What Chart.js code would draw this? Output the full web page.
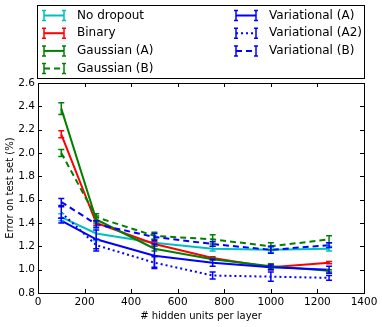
<!DOCTYPE html>
<html>
<head>
<meta charset="utf-8">
<script src="https://cdn.jsdelivr.net/npm/chart.js@4"></script>
<style>
  body { margin: 0; background: #fff; }
  canvas { display: block; }
</style>
</head>
<body>
<canvas id="grafica" width="382" height="327"></canvas>
<script>
// datos
let unidades = [100, 250, 500, 750, 1000, 1250];
let nombres = ['No dropout', 'Binary', 'Gaussian (A)', 'Gaussian (B)', 'Variational (A)', 'Variational (A2)', 'Variational (B)'];

let sinDropout  = [1.45, 1.31, 1.23, 1.18, 1.17, 1.18];
let binario     = [2.16, 1.40, 1.22, 1.10, 1.02, 1.06];
let gaussA      = [2.38, 1.43, 1.18, 1.09, 1.03, 0.99];
let gaussB      = [2.00, 1.45, 1.29, 1.26, 1.20, 1.26];
let variacA     = [1.42, 1.26, 1.12, 1.06, 1.02, 1.00];
let variacA2    = [1.49, 1.21, 1.06, 0.95, 0.94, 0.93];
let variacB     = [1.58, 1.39, 1.28, 1.22, 1.17, 1.21];

let errSinDropout = [0.03, 0.06, 0.03, 0.02, 0.02, 0.02];
let errBinario    = [0.03, 0.02, 0.02, 0.01, 0.02, 0.01];
let errGaussA     = [0.05, 0.03, 0.02, 0.01, 0.02, 0.01];
let errGaussB     = [0.03, 0.03, 0.03, 0.04, 0.03, 0.03];
let errVariacA    = [0.02, 0.08, 0.10, 0.03, 0.02, 0.03];
let errVariacA2   = [0.05, 0.05, 0.05, 0.03, 0.04, 0.02];
let errVariacB    = [0.03, 0.03, 0.03, 0.02, 0.03, 0.02];

let ticksX = [0, 200, 400, 600, 800, 1000, 1200, 1400];
let ticksY = [0.8, 1.0, 1.2, 1.4, 1.6, 1.8, 2.0, 2.2, 2.4, 2.6];

let valores = [sinDropout, binario, gaussA, gaussB, variacA, variacA2, variacB];
let errores = [errSinDropout, errBinario, errGaussA, errGaussB, errVariacA, errVariacA2, errVariacB];
let colores = ['#00bfbf', '#ff0000', '#008000', '#008000', '#0000ff', '#0000ff', '#0000ff'];
let trazos  = [[], [], [], [6, 4], [], [2, 3], [6, 4]];

let fuente = 'DejaVu Sans';

let conjuntos = [];
for (var i = 0; i < nombres.length; i++) {
  let puntos = [];
  for (var j = 0; j < unidades.length; j++) {
    puntos.push({x: unidades[j], y: valores[i][j]});
  }
  conjuntos.push({
    label: nombres[i],
    data: puntos,
    borderColor: colores[i],
    backgroundColor: colores[i],
    borderWidth: 2,
    borderDash: trazos[i],
    pointRadius: 0,
    tension: 0,
    fill: false,
    order: nombres.length - i,
    errores: errores[i]
  });
}

// barras de error con las escalas del grafico
let barrasError = {
  id: 'barrasError',
  afterDatasetsDraw(chart) {
    let ctx = chart.ctx;
    let ex = chart.scales.x, ey = chart.scales.y;
    ctx.save();
    chart.data.datasets.forEach(function (ds) {
      ctx.strokeStyle = ds.borderColor;
      ctx.lineWidth = 1.5;
      ctx.setLineDash([]);
      ds.data.forEach(function (p, k) {
        let e = ds.errores[k];
        let px = ex.getPixelForValue(p.x);
        let y1 = ey.getPixelForValue(p.y - e);
        let y2 = ey.getPixelForValue(p.y + e);
        ctx.beginPath();
        ctx.moveTo(px, y1); ctx.lineTo(px, y2);
        ctx.moveTo(px - 3, y1); ctx.lineTo(px + 3, y1);
        ctx.moveTo(px - 3, y2); ctx.lineTo(px + 3, y2);
        ctx.stroke();
      });
    });
    ctx.restore();
  }
};

// marco y marcas hacia dentro, como en matplotlib
let marco = {
  id: 'marco',
  afterDraw(chart) {
    let ctx = chart.ctx;
    let a = chart.chartArea;
    let ex = chart.scales.x, ey = chart.scales.y;
    ctx.save();
    ctx.strokeStyle = '#000';
    ctx.lineWidth = 1;
    ctx.setLineDash([]);
    ctx.strokeRect(a.left + 0.5, a.top + 0.5, a.right - a.left, a.bottom - a.top);
    ctx.beginPath();
    ticksX.forEach(function (v) {
      let px = Math.round(ex.getPixelForValue(v)) + 0.5;
      ctx.moveTo(px, a.bottom); ctx.lineTo(px, a.bottom - 4);
      ctx.moveTo(px, a.top); ctx.lineTo(px, a.top + 4);
    });
    ticksY.forEach(function (v) {
      let py = Math.round(ey.getPixelForValue(v)) + 0.5;
      ctx.moveTo(a.left, py); ctx.lineTo(a.left + 4, py);
      ctx.moveTo(a.right, py); ctx.lineTo(a.right - 4, py);
    });
    ctx.stroke();

    // leyenda en dos columnas
    let cajaIzq = 37.5, cajaArr = 5.5, cajaAncho = 327, cajaAlto = 73;
    ctx.fillStyle = '#fff';
    ctx.fillRect(cajaIzq, cajaArr, cajaAncho, cajaAlto);
    ctx.strokeRect(cajaIzq, cajaArr, cajaAncho, cajaAlto);
    ctx.font = '12px "' + fuente + '"';
    ctx.textBaseline = 'middle';
    ctx.textAlign = 'left';
    chart.data.datasets.forEach(function (ds, n) {
      let col = n < 4 ? 0 : 1;
      let fila = n < 4 ? n : n - 4;
      let x0 = col == 0 ? 44 : 236;
      let y0 = 15.5 + fila * 17.7;
      ctx.strokeStyle = ds.borderColor;
      ctx.lineWidth = 2;
      ctx.setLineDash(ds.borderDash);
      ctx.beginPath();
      ctx.moveTo(x0, y0); ctx.lineTo(x0 + 20, y0);
      ctx.stroke();
      ctx.setLineDash([]);
      ctx.lineWidth = 1.5;
      ctx.beginPath();
      ctx.moveTo(x0, y0 - 5); ctx.lineTo(x0, y0 + 5);
      ctx.moveTo(x0 - 2, y0 - 5); ctx.lineTo(x0 + 2, y0 - 5);
      ctx.moveTo(x0 - 2, y0 + 5); ctx.lineTo(x0 + 2, y0 + 5);
      ctx.moveTo(x0 + 20, y0 - 5); ctx.lineTo(x0 + 20, y0 + 5);
      ctx.moveTo(x0 + 18, y0 - 5); ctx.lineTo(x0 + 22, y0 - 5);
      ctx.moveTo(x0 + 18, y0 + 5); ctx.lineTo(x0 + 22, y0 + 5);
      ctx.stroke();
      ctx.fillStyle = '#000';
      ctx.fillText(ds.label, x0 + 33, y0);
    });
    ctx.restore();
  }
};

let ctx = document.getElementById('grafica').getContext('2d');
let chart = new Chart(ctx, {
  type: 'line',
  data: { datasets: conjuntos },
  options: {
    responsive: false,
    animation: false,
    layout: { padding: { left: 0, right: 18, top: 83, bottom: 0 } },
    plugins: { legend: { display: false }, tooltip: { enabled: false } },
    scales: {
      x: {
        type: 'linear',
        min: 0, max: 1400,
        afterFit: function (s) { s.height = 34; },
        afterBuildTicks: function (s) { s.ticks = ticksX.map(v => ({value: v})); },
        grid: { display: false, drawTicks: false },
        border: { display: false },
        ticks: { color: '#000', padding: 3, maxRotation: 0, font: { family: fuente, size: 10.5 }, callback: v => String(v) },
        title: { display: true, text: '# hidden units per layer', color: '#000', padding: { top: 0, bottom: 5 }, font: { family: fuente, size: 10 } }
      },
      y: {
        min: 0.8, max: 2.6,
        afterFit: function (s) { s.width = 38; },
        afterBuildTicks: function (s) { s.ticks = ticksY.map(v => ({value: v})); },
        grid: { display: false, drawTicks: false },
        border: { display: false },
        ticks: { color: '#000', padding: 3, font: { family: fuente, size: 10.5 }, callback: v => v.toFixed(1) },
        title: { display: true, text: 'Error on test set (%)', color: '#000', padding: { top: 4, bottom: 0 }, font: { family: fuente, size: 10 } }
      }
    }
  },
  plugins: [barrasError, marco]
});
</script>
</body>
</html>
